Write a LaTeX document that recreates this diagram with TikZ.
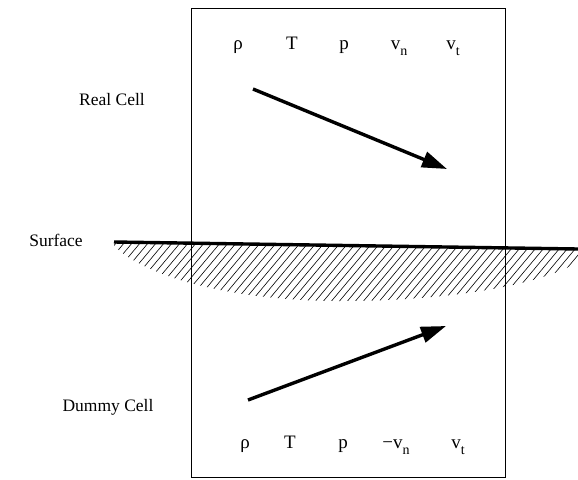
\documentclass[tikz,border=0pt]{standalone}
\usepackage{fontspec}
\setmainfont{Liberation Serif}
\usetikzlibrary{arrows.meta}
\newcommand{\sbs}[1]{\raisebox{-6pt}{\fontsize{14}{14}\selectfont #1}}
\begin{document}
\begin{tikzpicture}[x=1pt,y=-1pt,
  lbl/.style={inner sep=0pt,font=\fontsize{17.5}{19}\selectfont},
  var/.style={inner sep=0pt,anchor=base,font=\fontsize{19}{21}\selectfont},
  vec/.style={line width=3.4pt,-{Triangle[length=25pt,width=16pt]}},
  hatchline/.style={line width=0.6pt}]
\useasboundingbox (0,0) rectangle (578,479);
% cell box
\draw[line width=1pt] (191,8) rectangle (505,477);
% hatch below surface
\begin{scope}
\clip (114,242) -- (578,249) -- (578,262)
  .. controls (540,285) and (450,301) .. (340,301)
  .. controls (240,301) and (150,280) .. (114,246) -- cycle;
\foreach \i in {0,...,70} {
  \draw[hatchline] (60+8*\i,310) -- ++(62,-74);
}
\end{scope}
% surface
\coordinate (sL) at (114,242);
\coordinate (sR) at (578,249);
\draw[line width=3.4pt] (sL) -- (sR);
% labels
\node[lbl] (real) at (112,100) {Real Cell};
\node[lbl] (surf) at (56,240) {Surface};
\node[lbl] (dummy) at (108,407) {Dummy Cell};
% top row
\node[var] (r1) at (238,49) {ρ};
\node[var] (t1) at (292,49) {T};
\node[var] (p1) at (344,49) {p};
\node[var] (vn1) at (399,49) {v\sbs{n}};
\node[var] (vt1) at (453,49) {v\sbs{t}};
% bottom row
\node[var] (r2) at (245,448) {ρ};
\node[var] (t2) at (290,448) {T};
\node[var] (p2) at (343,448) {p};
\node[var] (vn2) at (396,448) {−v\sbs{n}};
\node[var] (vt2) at (458,448) {v\sbs{t}};
% velocity vectors
\coordinate (a1s) at (253,89);
\coordinate (a1e) at (447,169);
\coordinate (a2s) at (248,400);
\coordinate (a2e) at (446,326);
\draw[vec] (a1s) -- (a1e);
\draw[vec] (a2s) -- (a2e);
\end{tikzpicture}
\end{document}
